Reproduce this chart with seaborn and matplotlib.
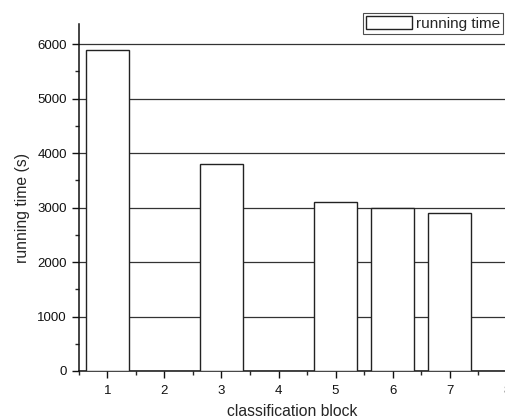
import pandas as pd
import matplotlib
matplotlib.use("Agg")
import matplotlib.pyplot as plt
import seaborn as sns
from matplotlib.ticker import MultipleLocator
from matplotlib.patches import Patch

# values
blocks = [1, 3, 5, 6, 7]
run_time = [5900, 3800, 3100, 3000, 2900]
x_ticks = [1, 2, 3, 4, 5, 6, 7, 8]

df = pd.DataFrame({"block": blocks, "time": run_time})

sns.set_style("ticks")
plt.rcParams['font.family'] = ['Liberation Sans', 'DejaVu Sans']

fig = plt.figure(figsize=(5.05, 4.19), dpi=100)
ax = fig.add_axes([0.156, 0.1146, 0.904, 0.828])

sns.barplot(data=df, x="block", y="time", native_scale=True, width=0.75,
            color="white", edgecolor="#222222", linewidth=1.0,
            errorbar=None, ax=ax, zorder=3)

ax.set_xlim(0.5, 8.5)
ax.set_ylim(0, 6370)
ax.set_xticks(x_ticks)
ax.xaxis.set_minor_locator(MultipleLocator(0.5))
ax.yaxis.set_major_locator(MultipleLocator(1000))
ax.yaxis.set_minor_locator(MultipleLocator(500))
ax.tick_params(axis="both", which="major", direction="out", length=5,
               width=1, labelsize=9.5, colors="#111111")
ax.tick_params(axis="x", which="major", pad=5)
ax.tick_params(axis="both", which="minor", direction="out", length=3, width=1)

ax.grid(axis="y", which="major", color="#333333", linewidth=0.9, zorder=0)
ax.set_axisbelow(True)

for side in ["top", "right"]:
    ax.spines[side].set_visible(False)
for side in ["left", "bottom"]:
    ax.spines[side].set_linewidth(1.1)
    ax.spines[side].set_color("#111111")

ax.set_xlabel("classification block", fontsize=11.3)
ax.set_ylabel("running time (s)", fontsize=11.3)
ax.xaxis.set_label_coords(0.468, -0.118)
ax.yaxis.set_label_coords(-0.123, 0.47)
ax.xaxis.label.set_verticalalignment("center")
ax.yaxis.label.set_verticalalignment("center")

handle = Patch(facecolor="white", edgecolor="#222222", linewidth=1.0)
leg = fig.legend([handle], ["running time"], loc="upper right",
                 bbox_to_anchor=(0.997, 0.97), fontsize=11, frameon=True,
                 fancybox=False, borderpad=0.2, handlelength=3.0,
                 handleheight=1.0, handletextpad=0.3, borderaxespad=0)
leg.get_frame().set_edgecolor("#222222")
leg.get_frame().set_linewidth(0.8)

fig.savefig("out.png", dpi=100)
